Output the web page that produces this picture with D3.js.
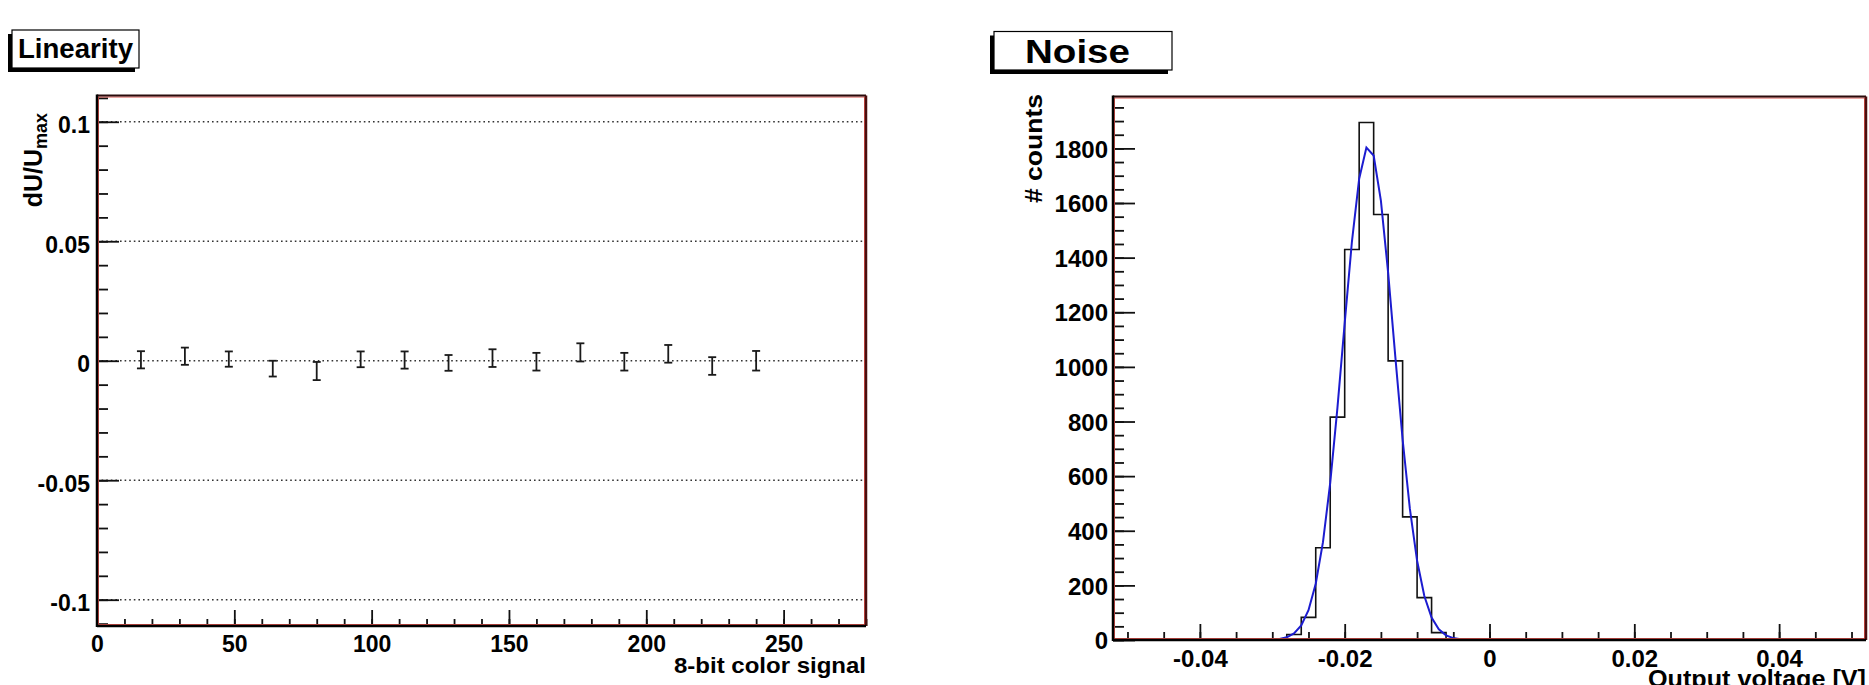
<!DOCTYPE html>
<html>
<head>
<meta charset="utf-8">
<script src="https://cdn.jsdelivr.net/npm/d3@7"></script>
<style>
body { margin: 0; background: #fff; }
text { font-family: "Liberation Sans", Arial, Helvetica, sans-serif; font-weight: bold; fill: #000; }
</style>
</head>
<body>
<script>
// --- Linearity panel ---
var linSignal = [16, 32, 48, 64, 80, 96, 112, 128, 144, 160, 176, 192, 208, 224, 240];
var linDev = [0.0004, 0.0019, 0.0007, -0.0033, -0.0043, 0.0006, 0.0003, -0.0009, 0.0011, -0.0004, 0.0035, -0.0004, 0.0029, -0.0022, 0.0000];
var linErr = [0.0036, 0.0036, 0.0032, 0.0033, 0.0038, 0.0033, 0.0036, 0.0033, 0.0037, 0.0037, 0.0038, 0.0037, 0.0037, 0.0037, 0.0041];
var linXTicks = [0, 50, 100, 150, 200, 250];
var linYTicks = [-0.1, -0.05, 0, 0.05, 0.1];

// --- Noise panel ---
var noiseBinLow = [-0.030, -0.028, -0.026, -0.024, -0.022, -0.020, -0.018, -0.016, -0.014, -0.012, -0.010, -0.008, -0.006];
var noiseCounts = [3, 20, 83, 338, 816, 1430, 1895, 1558, 1022, 451, 155, 27, 4];
var binWidth = 0.002;
var fitV = [-0.030, -0.029, -0.028, -0.027, -0.026, -0.025, -0.024, -0.023, -0.022, -0.021, -0.020, -0.019, -0.018, -0.017,
            -0.016, -0.015, -0.014, -0.013, -0.012, -0.011, -0.010, -0.009, -0.008, -0.007, -0.006, -0.005, -0.004, -0.003];
var fitCounts = [1, 4, 10, 24, 53, 109, 206, 358, 575, 851, 1160, 1459, 1689, 1803,
                 1774, 1609, 1345, 1035, 734, 481, 290, 161, 82, 39, 17, 7, 3, 1];
var noiseXTicks = [-0.04, -0.02, 0, 0.02, 0.04];
var noiseYTicks = [0, 200, 400, 600, 800, 1000, 1200, 1400, 1600, 1800];

var svg = d3.select("body").append("svg")
	.attr("width", 1869)
	.attr("height", 685);

function frame(x0, y0, x1, y1) {
	svg.append("rect")
		.attr("x", x0 + 1.5).attr("y", y0 + 1.5)
		.attr("width", x1 - x0 - 3).attr("height", y1 - y0 - 3)
		.attr("fill", "none").attr("stroke", "#d8504a").attr("stroke-width", 1);
	svg.append("line").attr("x1", x0).attr("x2", x1).attr("y1", y0).attr("y2", y0)
		.attr("stroke", "#2a0c0c").attr("stroke-width", 2);
	svg.append("line").attr("x1", x1).attr("x2", x1).attr("y1", y0).attr("y2", y1)
		.attr("stroke", "#4a0e0e").attr("stroke-width", 2.5);
	svg.append("line").attr("x1", x0).attr("x2", x0).attr("y1", y0 - 1).attr("y2", y1 + 1)
		.attr("stroke", "#000").attr("stroke-width", 2.5);
	svg.append("line").attr("x1", x0).attr("x2", x1).attr("y1", y1).attr("y2", y1)
		.attr("stroke", "#000").attr("stroke-width", 2.5);
}

function titleBox(x, y, w, h, label, size, tx, ty, len) {
	svg.append("rect").attr("x", x - 4).attr("y", y + 4).attr("width", w).attr("height", h).attr("fill", "#000");
	svg.append("rect").attr("x", x).attr("y", y).attr("width", w).attr("height", h)
		.attr("fill", "#fff").attr("stroke", "#000").attr("stroke-width", 1.2);
	svg.append("text").attr("x", tx).attr("y", ty)
		.attr("font-size", size)
		.attr("textLength", len).attr("lengthAdjust", "spacingAndGlyphs")
		.text(label);
}

function styleAxis(g, fs) {
	g.select(".domain").remove();
	g.selectAll(".tick line").attr("stroke", "#111").attr("stroke-width", 1.8);
	g.selectAll(".tick text").attr("fill", "#000").attr("font-size", fs)
		.style("font-family", "'Liberation Sans', Arial, sans-serif").style("font-weight", "bold");
}

// ================= Linearity =================
var lx = d3.scaleLinear().domain([0, 280]).range([97, 866]);
var ly = d3.scaleLinear().domain([-0.111, 0.111]).range([626, 95.5]);

svg.append("g").selectAll("line")
	.data(linYTicks)
	.enter().append("line")
	.attr("x1", lx(0)).attr("x2", lx(280))
	.attr("y1", function(d) { return ly(d); })
	.attr("y2", function(d) { return ly(d); })
	.attr("stroke", "#333").attr("stroke-width", 1.4)
	.attr("stroke-dasharray", "1.6 3");

var lyMinor = svg.append("g").attr("transform", "translate(" + lx(0) + ",0)")
	.call(d3.axisLeft(ly).tickValues(d3.range(-11, 12).map(function(d) { return d / 100; })).tickSize(-11).tickFormat(""));
styleAxis(lyMinor, 23);
var lyMajor = svg.append("g").attr("transform", "translate(" + lx(0) + ",0)")
	.call(d3.axisLeft(ly).tickValues(linYTicks).tickSize(-22).tickPadding(7).tickFormat(String));
styleAxis(lyMajor, 23);
lyMajor.selectAll(".tick text").attr("dy", "0.48em");

var lxMinor = svg.append("g").attr("transform", "translate(0," + ly(-0.111) + ")")
	.call(d3.axisBottom(lx).tickValues(d3.range(0, 281, 10)).tickSize(-7).tickFormat(""));
styleAxis(lxMinor, 23);
var lxMajor = svg.append("g").attr("transform", "translate(0," + ly(-0.111) + ")")
	.call(d3.axisBottom(lx).tickValues(linXTicks).tickSize(-16).tickPadding(10).tickFormat(String));
styleAxis(lxMajor, 23);

// error bars
var bars = svg.append("g").selectAll("g")
	.data(linSignal.map(function(s, i) { return {s: s, v: linDev[i], e: linErr[i]}; }))
	.enter().append("g")
	.attr("stroke", "#1a1a1a").attr("stroke-width", 1.8);
bars.append("line")
	.attr("x1", function(d) { return lx(d.s); }).attr("x2", function(d) { return lx(d.s); })
	.attr("y1", function(d) { return ly(d.v - d.e); }).attr("y2", function(d) { return ly(d.v + d.e); });
bars.append("line")
	.attr("x1", function(d) { return lx(d.s) - 4; }).attr("x2", function(d) { return lx(d.s) + 4; })
	.attr("y1", function(d) { return ly(d.v + d.e); }).attr("y2", function(d) { return ly(d.v + d.e); });
bars.append("line")
	.attr("x1", function(d) { return lx(d.s) - 4; }).attr("x2", function(d) { return lx(d.s) + 4; })
	.attr("y1", function(d) { return ly(d.v - d.e); }).attr("y2", function(d) { return ly(d.v - d.e); });

frame(lx(0), ly(0.111), lx(280), ly(-0.111));

svg.append("text").attr("x", lx(280)).attr("y", 673)
	.attr("text-anchor", "end").attr("font-size", 22)
	.attr("textLength", 192).attr("lengthAdjust", "spacingAndGlyphs")
	.text("8-bit color signal");

var yt = svg.append("text")
	.attr("transform", "translate(42,113) rotate(-90)")
	.attr("text-anchor", "end").attr("font-size", 25);
yt.append("tspan").text("dU/U");
yt.append("tspan").attr("font-size", 18).attr("dy", 5).text("max");

titleBox(12, 30, 127, 38, "Linearity", 28, 18, 57.5, 115);

// ================= Noise =================
var nx = d3.scaleLinear().domain([-0.052, 0.052]).range([1113, 1866]);
var ny = d3.scaleLinear().domain([0, 1990]).range([640, 96.5]);

var nyMinor = svg.append("g").attr("transform", "translate(" + nx(-0.052) + ",0)")
	.call(d3.axisLeft(ny).tickValues(d3.range(0, 1951, 50)).tickSize(-11).tickFormat(""));
styleAxis(nyMinor, 24);
var nyMajor = svg.append("g").attr("transform", "translate(" + nx(-0.052) + ",0)")
	.call(d3.axisLeft(ny).tickValues(noiseYTicks).tickSize(-22).tickPadding(5).tickFormat(String));
styleAxis(nyMajor, 24);
nyMajor.selectAll(".tick text").attr("dy", "0.36em");

var nxMinor = svg.append("g").attr("transform", "translate(0," + ny(0) + ")")
	.call(d3.axisBottom(nx).tickValues(d3.range(-10, 11).map(function(d) { return d * 0.005; })).tickSize(-8).tickFormat(""));
styleAxis(nxMinor, 24);
var nxMajor = svg.append("g").attr("transform", "translate(0," + ny(0) + ")")
	.call(d3.axisBottom(nx).tickValues(noiseXTicks).tickSize(-16).tickPadding(10).tickFormat(String));
styleAxis(nxMajor, 24);

// histogram outline
var histPts = [{v: -0.052, c: 0}];
noiseBinLow.forEach(function(lo, i) { histPts.push({v: lo, c: noiseCounts[i]}); });
histPts.push({v: noiseBinLow[noiseBinLow.length - 1] + binWidth, c: 0});
histPts.push({v: 0.052, c: 0});

svg.append("path")
	.datum(histPts)
	.attr("fill", "none").attr("stroke", "#111").attr("stroke-width", 1.6)
	.attr("d", d3.line()
		.x(function(d) { return nx(d.v); })
		.y(function(d) { return ny(d.c); })
		.curve(d3.curveStepAfter));

// fit curve
svg.append("path")
	.datum(fitV.map(function(v, i) { return {v: v, c: fitCounts[i]}; }))
	.attr("fill", "none").attr("stroke", "#1c1cd0").attr("stroke-width", 2)
	.attr("d", d3.line()
		.x(function(d) { return nx(d.v); })
		.y(function(d) { return ny(d.c); }));

frame(nx(-0.052), ny(1990), nx(0.052), ny(0));

svg.append("text").attr("x", nx(0.052)).attr("y", 687)
	.attr("text-anchor", "end").attr("font-size", 24)
	.attr("textLength", 218).attr("lengthAdjust", "spacingAndGlyphs")
	.text("Output voltage [V]");

svg.append("text")
	.attr("transform", "translate(1042,94) rotate(-90)")
	.attr("text-anchor", "end").attr("font-size", 24)
	.attr("textLength", 109).attr("lengthAdjust", "spacingAndGlyphs")
	.text("# counts");

titleBox(994, 31.5, 178, 38.5, "Noise", 33, 1025, 62.5, 105);
</script>
</body>
</html>
